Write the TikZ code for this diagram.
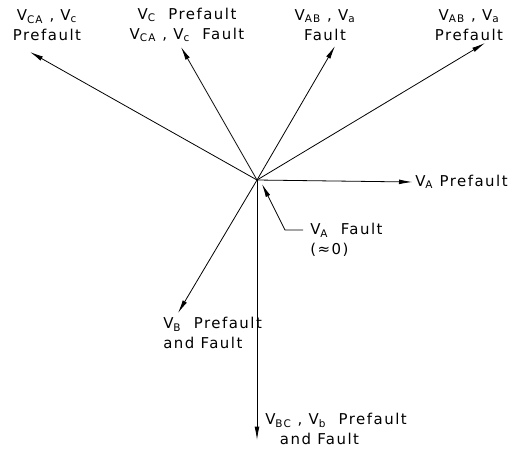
\documentclass[tikz,border=0pt]{standalone}
\usepackage{fontspec}
\setmainfont[LetterSpace=10]{DejaVu Sans}
\usetikzlibrary{arrows.meta,positioning}

\begin{document}
\begin{tikzpicture}[x=0.75pt, y=-0.75pt,
  phasor/.style={draw, line width=0.6pt, -{Latex[length=10pt,width=3.6pt]}},
  lbl/.style={align=center, font=\fontsize{11.2}{15}\selectfont, inner sep=0pt}
]
  \useasboundingbox (0,0) rectangle (514,455);
  \coordinate (o) at (257,180);

  % labels
  \node[lbl] (lcapre) at (47,25) {V\textsubscript{CA} , V\textsubscript{c}\\Prefault};
  \node[lbl] (lcflt) at (187,25) {V\textsubscript{C}\ \ Prefault\\V\textsubscript{CA} , V\textsubscript{c}\ \ Fault};
  \node[lbl] (labflt) at (325,25) {V\textsubscript{AB} , V\textsubscript{a}\\Fault};
  \node[lbl] (labpre) at (469,25) {V\textsubscript{AB} , V\textsubscript{a}\\Prefault};
  \node[lbl, anchor=west] (lapre) at (415,182) {V\textsubscript{A}\ Prefault};
  \node[lbl, align=left, anchor=north west] (laflt) at (310,223) {V\textsubscript{A}\ \ Fault\\(≈0)};
  \node[lbl, align=left, anchor=north west] (lb) at (163,317) {V\textsubscript{B}\ \ Prefault\\and Fault};
  \node[lbl, align=left, anchor=north west] (lbc) at (265,413) {V\textsubscript{BC} , V\textsubscript{b}\ \ Prefault\\\hspace{11pt}and Fault};

  % phasor tips
  \coordinate (tcapre) at (30,52);
  \coordinate (tcflt) at (181,47);
  \coordinate (tabflt) at (335,46);
  \coordinate (tabpre) at (485,43);
  \coordinate (tb) at (178,313);
  \coordinate (tbc) at (257,440);
  \coordinate (taflt) at (262,184);
  \coordinate (knee) at (285,230);

  \draw[phasor] (o) -- (tcapre);
  \draw[phasor] (o) -- (tcflt);
  \draw[phasor] (o) -- (tabflt);
  \draw[phasor] (o) -- (tabpre);
  \draw[phasor] (o) -- ([xshift=-2pt]lapre.west);
  \draw[phasor] (o) -- (tb);
  \draw[phasor] (o) -- (tbc);
  \draw[phasor] (laflt.west |- 0,230) ++(-7,0) -- (knee) -- (taflt);
\end{tikzpicture}
\end{document}
